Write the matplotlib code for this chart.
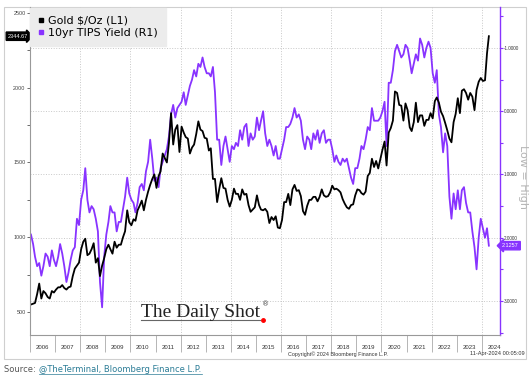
import pandas as pd
import matplotlib
matplotlib.use("Agg")
import matplotlib.pyplot as plt
import matplotlib.dates as mdates
from matplotlib.lines import Line2D
from matplotlib.patches import Rectangle
from matplotlib.ticker import MultipleLocator, FormatStrFormatter, NullFormatter

# monthly readings, Jan 2006 .. Mar 2024, then the last print on 11-Apr-2024
gold = [
    550, 555, 560, 620, 690, 590, 640, 625, 600, 590, 640, 630,          # 2006
    650, 665, 665, 680, 660, 650, 665, 670, 740, 790, 810, 830,          # 2007
    920, 970, 990, 880, 890, 920, 960, 830, 860, 740, 810, 860,          # 2008
    920, 950, 920, 890, 970, 930, 950, 950, 1000, 1040, 1180, 1100,      # 2009
    1080, 1120, 1110, 1180, 1210, 1245, 1180, 1250, 1305, 1350, 1390, 1420,  # 2010
    1330, 1410, 1440, 1560, 1530, 1500, 1630, 1830, 1620, 1720, 1750, 1570,  # 2011
    1740, 1700, 1670, 1660, 1560, 1600, 1620, 1690, 1775, 1720, 1710, 1665,  # 2012
    1660, 1580, 1595, 1390, 1390, 1235, 1320, 1395, 1330, 1325, 1250, 1205,  # 2013
    1250, 1325, 1290, 1290, 1250, 1320, 1285, 1290, 1215, 1170, 1185, 1200,  # 2014
    1280, 1215, 1185, 1180, 1190, 1170, 1095, 1135, 1115, 1140, 1065, 1060,  # 2015
    1115, 1235, 1235, 1290, 1215, 1320, 1350, 1310, 1315, 1275, 1175, 1150,  # 2016
    1210, 1250, 1250, 1270, 1270, 1240, 1270, 1320, 1280, 1270, 1275, 1300,  # 2017
    1345, 1320, 1325, 1315, 1300, 1255, 1225, 1200, 1190, 1215, 1220, 1280,  # 2018
    1320, 1315, 1295, 1285, 1305, 1410, 1430, 1525, 1470, 1510, 1460, 1520,  # 2019
    1585, 1640, 1480, 1700, 1730, 1780, 1975, 1965, 1885, 1880, 1780, 1895,  # 2020
    1850, 1735, 1710, 1770, 1900, 1770, 1815, 1815, 1745, 1785, 1785, 1830,  # 2021
    1795, 1910, 1935, 1900, 1840, 1810, 1765, 1715, 1660, 1635, 1770, 1825,  # 2022
    1930, 1830, 1980, 1990, 1965, 1920, 1965, 1940, 1850, 1985, 2040, 2065,  # 2023
    2045, 2050, 2230, 2344.67,                                            # 2024
]
tips = [
    1.95, 2.10, 2.30, 2.45, 2.40, 2.60, 2.45, 2.25, 2.30, 2.45, 2.20, 2.35,
    2.45, 2.30, 2.10, 2.25, 2.45, 2.70, 2.55, 2.35, 2.20, 2.15, 1.70, 1.80,
    1.40, 1.25, 0.90, 1.40, 1.60, 1.50, 1.55, 1.70, 1.90, 2.70, 3.10, 2.30,
    1.95, 1.75, 1.50, 1.60, 1.60, 1.90, 1.75, 1.75, 1.55, 1.35, 1.05, 1.30,
    1.40, 1.45, 1.60, 1.45, 1.20, 1.15, 1.25, 0.95, 0.80, 0.45, 0.75, 1.10,
    1.05, 1.20, 0.90, 0.80, 0.70, 0.60, 0.40, 0.05, -0.10, 0.10, -0.05, -0.10,
    -0.15, -0.30, -0.10, -0.25, -0.40, -0.50, -0.65, -0.55, -0.75, -0.70, -0.85, -0.70,
    -0.60, -0.60, -0.55, -0.70, -0.30, 0.45, 0.45, 0.85, 0.55, 0.40, 0.60, 0.80,
    0.55, 0.60, 0.50, 0.55, 0.30, 0.45, 0.25, 0.20, 0.55, 0.35, 0.45, 0.40,
    0.10, 0.30, 0.15, 0.00, 0.35, 0.55, 0.45, 0.55, 0.70, 0.55, 0.75, 0.75,
    0.60, 0.45, 0.25, 0.25, 0.20, 0.10, -0.05, 0.10, 0.05, 0.15, 0.45, 0.60,
    0.40, 0.45, 0.60, 0.35, 0.45, 0.30, 0.50, 0.35, 0.30, 0.50, 0.45, 0.45,
    0.60, 0.80, 0.70, 0.80, 0.85, 0.75, 0.80, 0.75, 0.90, 1.05, 1.15, 0.90,
    0.90, 0.75, 0.55, 0.60, 0.45, 0.25, 0.30, -0.05, 0.15, 0.15, 0.15, 0.10,
    0.00, -0.15, 0.55, -0.45, -0.45, -0.65, -0.95, -1.05, -0.95, -0.85, -0.90, -1.05,
    -1.00, -0.80, -0.60, -0.75, -0.90, -0.80, -1.15, -1.05, -0.85, -1.00, -1.10, -1.00,
    -0.60, -0.45, -0.65, 0.05, 0.25, 0.65, 0.35, 0.55, 1.35, 1.70, 1.30, 1.55,
    1.25, 1.55, 1.25, 1.20, 1.45, 1.60, 1.60, 1.90, 2.15, 2.50, 2.00, 1.70,
    1.85, 2.00, 1.85, 2.1257,
]
dates = list(pd.date_range("2006-01-01", "2024-03-01", freq="MS") + pd.Timedelta(days=14))
dates.append(pd.Timestamp("2024-04-11"))

labels = ["Gold $/Oz (L1)", "10yr TIPS Yield (R1)"]
purple = "#8833ff"
small = "Liberation Sans"
W, H = 532, 382

fig = plt.figure(figsize=(W / 100, H / 100), dpi=100)
ax = fig.add_axes([30 / W, 1 - 335 / H, 470 / W, 328 / H])
ax2 = ax.twinx()
ax2.set_zorder(1)
ax.set_zorder(2)
ax.patch.set_visible(False)

ax2.plot(dates, tips, color=purple, lw=1.3)
ax.plot(dates, gold, color="black", lw=1.3)

ax.set_xlim(pd.Timestamp("2006-01-01"), pd.Timestamp("2024-09-20"))
ax.set_ylim(346, 2540)
ax2.set_ylim(3.538, -1.648)   # inverted: low yield = high

# spines
for s in ["top", "right"]:
    ax.spines[s].set_visible(False)
ax.spines["left"].set_color("#999999")
ax.spines["bottom"].set_color("#999999")
for s in ["top", "left", "bottom"]:
    ax2.spines[s].set_visible(False)
ax2.spines["right"].set_color(purple)
ax2.spines["right"].set_linewidth(1.0)

# x axis: separators at year starts, labels mid-year
ax.xaxis.set_major_locator(mdates.YearLocator())
ax.xaxis.set_major_formatter(NullFormatter())
ax.xaxis.set_minor_locator(mdates.MonthLocator(bymonth=7, bymonthday=1))
ax.xaxis.set_minor_formatter(mdates.DateFormatter("%Y"))
ax.tick_params(axis="x", which="major", length=12, width=0.6, color="#aaaaaa")
ax.tick_params(axis="x", which="minor", length=0, pad=7, labelsize=4.3, labelcolor="#333333")

# left axis
ax.yaxis.set_major_locator(MultipleLocator(500))
ax.yaxis.set_minor_locator(MultipleLocator(250))
ax.tick_params(axis="y", which="both", length=2.2, width=0.6, color="#555555",
               labelsize=3.9, labelcolor="#444444", pad=1)

# right axis
ax2.yaxis.set_major_locator(MultipleLocator(1))
ax2.yaxis.set_minor_locator(MultipleLocator(0.5))
ax2.yaxis.set_major_formatter(FormatStrFormatter("%.4f"))
ax2.tick_params(axis="y", which="both", length=2.0, width=0.8, color=purple,
                labelsize=3.3, labelcolor="#333333", pad=0.6)

for lab in ax.get_xticklabels(which="both") + ax.get_yticklabels() + ax2.get_yticklabels():
    lab.set_family(small)

# grid
ax2.yaxis.grid(True, which="major", linestyle=":", color="#c8c8c8", lw=0.7)
for yr in range(2008, 2025, 2):
    ax2.axvline(pd.Timestamp(f"{yr}-01-01"), linestyle=":", color="#c8c8c8", lw=0.7, zorder=0)

# last value tags
ax.text(-0.004, gold[-1], f"{gold[-1]:.2f}", transform=ax.get_yaxis_transform(),
        ha="right", va="center", fontsize=4.0, color="white", family=small,
        bbox=dict(boxstyle="rarrow,pad=0.3", fc="black", ec="black"))
ax2.text(1.004, tips[-1], f"{tips[-1]:.4f}", transform=ax2.get_yaxis_transform(),
         ha="left", va="center", fontsize=4.0, color="white", family=small,
         bbox=dict(boxstyle="larrow,pad=0.3", fc=purple, ec=purple))

# legend
handles = [Line2D([], [], marker="s", ls="none", color="black", ms=3.2),
           Line2D([], [], marker="s", ls="none", color=purple, ms=3.2)]
leg = ax.legend(handles, labels, loc="upper left", bbox_to_anchor=(0.0, 0.998),
                frameon=True, fancybox=False, facecolor="#ececec", edgecolor="#ececec",
                framealpha=1, fontsize=8, handlelength=0.4, handletextpad=0.5,
                borderpad=0.75, labelspacing=0.15, borderaxespad=0)

# outer frame
fig.add_artist(Rectangle((4 / W, 1 - 359 / H), 522 / W, 352 / H, transform=fig.transFigure,
                         fill=False, ec="#cfcfcf", lw=0.8))

fig.text(523.5 / W, 1 - 177 / H, "Low = High", rotation=270, fontsize=8,
         color="#b5b5b5", ha="center", va="center")

fig.text(338 / W, 1 - 354 / H, "Copyright\u00a9 2024 Bloomberg Finance L.P.", family=small,
         ha="center", va="center", fontsize=3.9, color="#333333")
fig.text(525 / W, 1 - 354 / H, "11-Apr-2024 00:05:09", family=small,
         ha="right", va="center", fontsize=4.1, color="#333333")

# logo
fig.text(141 / W, 1 - 317 / H, "The Daily Shot", family="Liberation Serif",
         fontsize=14, va="baseline", color="#222222")
fig.text(262 / W, 1 - 304 / H, "\u00ae", fontsize=5, color="#444444", va="center")
fig.add_artist(Line2D([141 / W, 260 / W], [1 - 320 / H, 1 - 320 / H],
                      transform=fig.transFigure, color="#666666", lw=0.8))
fig.add_artist(Line2D([263 / W], [1 - 320 / H], transform=fig.transFigure,
                      marker="o", ms=2.5, color="red", ls="none"))

# source line with underlined link
src = fig.text(4 / W, 1 - 372 / H, "Source: ", fontsize=6, color="#555555", va="baseline")
renderer = fig.canvas.get_renderer()
bb = src.get_window_extent(renderer=renderer)
link = fig.text(bb.x1 / W + 1 / W, 1 - 372 / H, "@TheTerminal, Bloomberg Finance L.P.",
                fontsize=6, color="#2b7c96", va="baseline")
lb = link.get_window_extent(renderer=renderer)
fig.add_artist(Line2D([lb.x0 / W, lb.x1 / W], [1 - 374 / H, 1 - 374 / H],
                      transform=fig.transFigure, color="#2b7c96", lw=0.5))

fig.savefig("out.png", dpi=100)
